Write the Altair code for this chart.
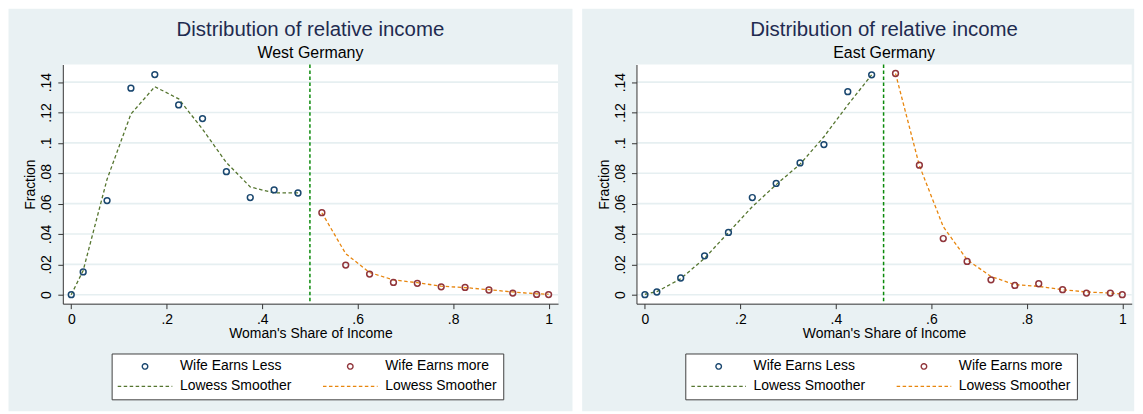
import altair as alt
import pandas as pd

# ---------------- data ----------------
bins_less = [0.0, 0.025, 0.075, 0.125, 0.175, 0.225, 0.275, 0.325, 0.375, 0.425, 0.475]
bins_more = [0.525, 0.575, 0.625, 0.675, 0.725, 0.775, 0.825, 0.875, 0.925, 0.975, 1.0]

west_less = [0.0, 0.015, 0.062, 0.136, 0.145, 0.125, 0.116, 0.081, 0.064, 0.069, 0.067]
west_more = [0.054, 0.0195, 0.0136, 0.0081, 0.0075, 0.0052, 0.0048, 0.0031, 0.0011, 0.0002, 0.0001]
west_lw_less = [0.0, 0.016, 0.076, 0.119, 0.137, 0.129, 0.109, 0.087, 0.071, 0.067, 0.067]
west_lw_more = [0.054, 0.027, 0.0146, 0.0098, 0.0079, 0.0056, 0.0047, 0.0033, 0.0018, 0.0006, 0.0003]

east_less = [0.0, 0.0018, 0.011, 0.0256, 0.041, 0.064, 0.0733, 0.0868, 0.0989, 0.1337, 0.1448]
east_more = [0.1457, 0.0853, 0.037, 0.0219, 0.0098, 0.0061, 0.0072, 0.0033, 0.0011, 0.0011, 0.0]
east_lw_less = [0.0003, 0.002, 0.0105, 0.024, 0.041, 0.058, 0.0725, 0.086, 0.104, 0.125, 0.1448]
east_lw_more = [0.1457, 0.085, 0.0448, 0.023, 0.012, 0.0066, 0.0055, 0.0033, 0.0018, 0.0011, 0.0004]

cutoff = [0.5]

x_ticks = [0, 0.2, 0.4, 0.6, 0.8, 1]
x_tick_labels = ["0", ".2", ".4", ".6", ".8", "1"]
y_ticks = [0, 0.02, 0.04, 0.06, 0.08, 0.1, 0.12, 0.14]
y_tick_labels = ["0", ".02", ".04", ".06", ".08", ".1", ".12", ".14"]

series_keys = ["less", "more", "lw_less", "lw_more"]
series_labels = ["Wife Earns Less", "Wife Earns more", "Lowess Smoother", "Lowess Smoother"]
series_colors = ["#1a476f", "#90353b", "#55752f", "#e8860e"]

main_title = "Distribution of relative income"
subtitles = ["West Germany", "East Germany"]

# ---------------- styles ----------------
W, H = 497, 240
FONT = "Liberation Sans"
BG = "#e9f1f3"
GRID = "#e6eff1"
AXIS = "#333333"
DASH = [3.5, 2.5]
LINE_SYMBOL = "M-10,0H10"


def lookup_expr(vals, labels, key="datum.value"):
    labs = ",".join("'" + l + "'" for l in labels)
    vs = ",".join(repr(v) for v in vals)
    return f"[{labs}][indexof([{vs}], {key})]"


xs = alt.Scale(domain=[-0.0177, 1.0198], nice=False, zero=False)
ys = alt.Scale(domain=[-0.0059, 0.1516], nice=False, zero=False)

x_axis = alt.Axis(values=x_ticks, labelExpr=lookup_expr(x_ticks, x_tick_labels),
                  title="Woman's Share of Income", grid=False, domainColor=AXIS,
                  tickColor=AXIS, tickSize=5, labelPadding=4, titlePadding=0,
                  labelFontSize=14, titleFontSize=14, labelFont=FONT, titleFont=FONT,
                  labelColor="black", titleColor="black", titleFontWeight="normal",
                  labelFlush=False, labelOverlap=False, zindex=1)
y_axis = alt.Axis(values=y_ticks, labelExpr=lookup_expr(y_ticks, y_tick_labels),
                  title="Fraction", grid=False, domainColor=AXIS, tickColor=AXIS,
                  tickSize=5, labelAngle=270, labelAlign="center",
                  labelBaseline="alphabetic", labelPadding=7, titlePadding=2,
                  labelFontSize=14, titleFontSize=14, labelFont=FONT, titleFont=FONT,
                  labelColor="black", titleColor="black", titleFontWeight="normal",
                  labelFlush=False, labelOverlap=False, zindex=1)

legend = alt.Legend(
    title=None, orient="none", legendX=49, legendY=290, columns=2,
    direction="horizontal",
    labelExpr=lookup_expr(series_keys, series_labels),
    labelFont=FONT, labelFontSize=14, labelColor="black",
    symbolOffset=20.5, labelOffset=28,
    symbolSize=30, symbolStrokeWidth=1.4, symbolFillColor="transparent",
    columnPadding=28, rowPadding=6,
    padding=6, strokeColor="#404040", fillColor="white", zindex=1,
)
color = alt.Color("series:N", scale=alt.Scale(domain=series_keys, range=series_colors),
                  legend=legend)
shape = alt.Shape("series:N", scale=alt.Scale(
    domain=series_keys, range=["circle", "circle", LINE_SYMBOL, LINE_SYMBOL]), legend=legend)
dash = alt.StrokeDash("series:N", scale=alt.Scale(
    domain=series_keys, range=[[1, 0], [1, 0], DASH, DASH]), legend=legend)


def panel(subtitle, less, more, lw_less, lw_more, right_extent):
    pts = pd.DataFrame({"x": bins_less + bins_more, "y": less + more,
                        "series": ["less"] * len(less) + ["more"] * len(more)})
    lw = pd.DataFrame({"x": bins_less + bins_more, "y": lw_less + lw_more,
                       "series": ["lw_less"] * len(lw_less) + ["lw_more"] * len(lw_more)})
    X = alt.X("x:Q", scale=xs, axis=x_axis)
    Y = alt.Y("y:Q", scale=ys, axis=y_axis)

    bg = alt.Chart(alt.Data(values=[{}])).mark_rect(color=BG).encode(
        x=alt.value(-54.5), x2=alt.value(right_extent), y=alt.value(-56), y2=alt.value(348))
    plotbg = alt.Chart(alt.Data(values=[{}])).mark_rect(color="white").encode(
        x=alt.value(0), x2=alt.value(W), y=alt.value(0), y2=alt.value(H))
    grid = alt.Chart(pd.DataFrame({"y": y_ticks})).mark_rule(
        color=GRID, strokeWidth=1.6).encode(y=Y)
    vline = alt.Chart(pd.DataFrame({"x": cutoff})).mark_rule(
        color="#0b8a0b", strokeWidth=1.5, strokeDash=DASH).encode(x=X)
    lines = alt.Chart(lw).mark_line(strokeWidth=1.3).encode(
        x=X, y=Y, color=color, strokeDash=dash)
    points = alt.Chart(pts).mark_point(filled=False, size=34,
                                       strokeWidth=1.5, opacity=1).encode(
        x=X, y=Y, color=color, shape=shape)

    return alt.layer(bg, plotbg, grid, vline, lines, points).properties(
        width=W, height=H,
        title=alt.TitleParams(text=main_title, subtitle=subtitle, fontSize=20.5,
                              subtitleFontSize=16, font=FONT, subtitleFont=FONT,
                              color="#1f2b50", subtitleColor="black",
                              fontWeight="normal", anchor="middle", frame="group",
                              offset=-52, subtitlePadding=4, zindex=1),
    )


left = panel(subtitles[0], west_less, west_more, west_lw_less, west_lw_more, 511.5)
right = panel(subtitles[1], east_less, east_more, east_lw_less, east_lw_more, 499.5)

chart = alt.hconcat(left, right, spacing=8.7).resolve_scale(
    x="independent", y="independent", color="independent",
    shape="independent", strokeDash="independent"
).resolve_legend(
    color="independent", shape="independent", strokeDash="independent"
).properties(
    padding=0, background="white"
).configure_view(stroke=None, fill="white")

chart.save("out.html", embed_options={"renderer": "svg", "actions": False})
